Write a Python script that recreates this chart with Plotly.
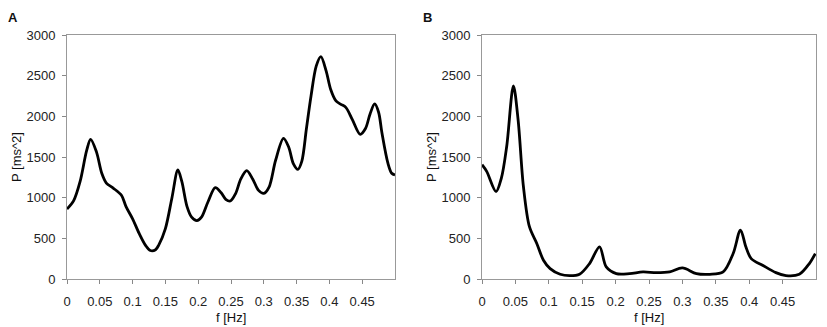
import plotly.graph_objects as go
from plotly.subplots import make_subplots

# Panel A spectrum
freq_a = [0.0, 0.01, 0.02, 0.03, 0.036, 0.045, 0.053, 0.06, 0.07, 0.083, 0.09, 0.1, 0.11, 0.12,
          0.127, 0.135, 0.14, 0.15, 0.16, 0.169, 0.175, 0.183, 0.19, 0.198, 0.205, 0.215, 0.226,
          0.235, 0.242, 0.249, 0.257, 0.265, 0.274, 0.283, 0.292, 0.3, 0.308, 0.318, 0.33, 0.338,
          0.345, 0.352, 0.358, 0.365, 0.372, 0.38, 0.387, 0.395, 0.402, 0.41, 0.417, 0.425, 0.435,
          0.447, 0.455, 0.462, 0.469, 0.475, 0.48, 0.489, 0.495, 0.5]
power_a = [860, 960, 1200, 1580, 1717, 1560, 1300, 1180, 1120, 1030, 890, 740, 560, 410,
           350, 360, 420, 620, 1000, 1340, 1200, 890, 760, 717, 760, 950, 1123,
           1060, 980, 959, 1050, 1230, 1332, 1230, 1090, 1053, 1130, 1460, 1730, 1620,
           1420, 1348, 1450, 1850, 2250, 2620, 2734, 2560, 2330, 2190, 2150, 2110, 1960,
           1779, 1850, 2030, 2152, 2050, 1800, 1430, 1300, 1279]

# Panel B spectrum
freq_b = [0.0, 0.007, 0.021, 0.029, 0.037, 0.047, 0.054, 0.062, 0.071, 0.082, 0.092, 0.102,
          0.117, 0.131, 0.146, 0.161, 0.176, 0.186, 0.201, 0.221, 0.241, 0.261, 0.281, 0.3,
          0.321, 0.341, 0.361, 0.376, 0.387, 0.395, 0.403, 0.42, 0.44, 0.455, 0.475, 0.49, 0.499]
power_b = [1405, 1323, 1075, 1240, 1632, 2373, 1961, 1137, 643, 437, 231, 128,
           58, 41, 58, 190, 396, 148, 66, 66, 87, 78, 87, 136,
           66, 58, 87, 313, 602, 396, 251, 169, 78, 41, 58, 190, 313]

x_ticks = [0, 0.05, 0.1, 0.15, 0.2, 0.25, 0.3, 0.35, 0.4, 0.45]
x_tick_text = ["0", "0.05", "0.1", "0.15", "0.2", "0.25", "0.3", "0.35", "0.4", "0.45"]
y_ticks = [0, 500, 1000, 1500, 2000, 2500, 3000]

# page body has an 8px margin: work in reference pixels minus the offset
OFF = 8
W, H = 827 - OFF, 327 - OFF


def px(x):
    return (x - OFF) / W


def py(y):
    return 1 - (y - OFF) / H


fig = make_subplots(rows=1, cols=2)
font = dict(family="Liberation Sans, Arial, sans-serif", size=13, color="#222")

for i, (fx, pw) in enumerate([(freq_a, power_a), (freq_b, power_b)], start=1):
    fig.add_trace(go.Scatter(x=fx, y=pw, mode="lines",
                             line=dict(color="black", width=2.8, shape="spline", smoothing=0.9),
                             showlegend=False, hoverinfo="x+y"), row=1, col=i)

axis_common = dict(showgrid=False, zeroline=False, showline=True, linecolor="#999", linewidth=1,
                   mirror=True, ticks="outside", ticklen=4, tickcolor="#888", automargin=False,
                   tickfont=font)
fig.update_xaxes(range=[0, 0.5], tickvals=x_ticks, ticktext=x_tick_text,
                 ticklabelstandoff=6, **axis_common)
fig.update_yaxes(range=[0, 3000], tickvals=y_ticks, ticklabelstandoff=4, **axis_common)

dom_xa = [px(67), px(395)]
dom_xb = [px(482), px(816)]
dom_y = [py(279), py(35)]

# inner halves of the crossing tick marks (overlay axes, no labels)
inner = dict(showgrid=False, zeroline=False, showline=False, ticks="inside", ticklen=3,
             tickcolor="#888", showticklabels=False, automargin=False)

fig.update_layout(
    width=W, height=H, margin=dict(l=0, r=0, t=0, b=0),
    paper_bgcolor="white", plot_bgcolor="white", font=font,
    xaxis=dict(domain=dom_xa),
    xaxis2=dict(domain=dom_xb),
    yaxis=dict(domain=dom_y),
    yaxis2=dict(domain=dom_y),
    xaxis3=dict(overlaying="x", anchor="y", domain=dom_xa, range=[0, 0.5], tickvals=x_ticks, **inner),
    xaxis4=dict(overlaying="x2", anchor="y2", domain=dom_xb, range=[0, 0.5], tickvals=x_ticks, **inner),
    yaxis3=dict(overlaying="y", anchor="x", domain=dom_y, range=[0, 3000], tickvals=y_ticks, **inner),
    yaxis4=dict(overlaying="y2", anchor="x2", domain=dom_y, range=[0, 3000], tickvals=y_ticks, **inner),
)

annos = [
    dict(text="<b>A</b>", x=px(13), y=py(9), size=13, yanchor="top"),
    dict(text="<b>B</b>", x=px(428), y=py(9), size=13, yanchor="top"),
    dict(text="f [Hz]", x=px(231), y=py(317), size=13, yanchor="middle"),
    dict(text="f [Hz]", x=px(649), y=py(317), size=13, yanchor="middle"),
    dict(text="P [ms^2]", x=px(16), y=py(157), size=13, yanchor="middle", textangle=-90),
    dict(text="P [ms^2]", x=px(431), y=py(157), size=13, yanchor="middle", textangle=-90),
]
for a in annos:
    size = a.pop("size")
    fig.add_annotation(xref="paper", yref="paper", showarrow=False,
                       xanchor="center", borderpad=0,
                       font=dict(family="Liberation Sans, Arial, sans-serif",
                                 size=size, color="#111"),
                       **a)

fig.write_html("out.html")
